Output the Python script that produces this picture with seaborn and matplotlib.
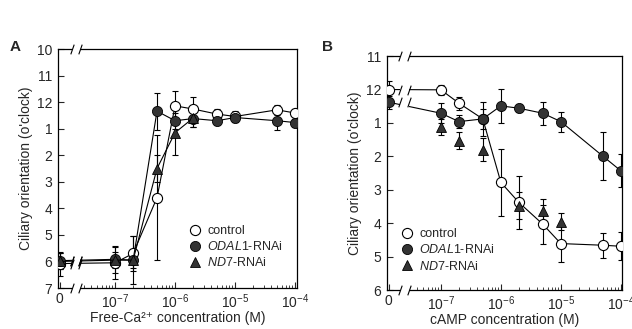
import numpy as np
import pandas as pd
import matplotlib
matplotlib.use("Agg")
import matplotlib.pyplot as plt
from matplotlib.lines import Line2D
import seaborn as sns

# panel A: free Ca2+ (M); y values in hours past 12 o'clock (12 -> 0, 1 -> 1, 10 -> -2)
ca_conc = [0, 1e-7, 2e-7, 5e-7, 1e-6, 2e-6, 5e-6, 1e-5, 5e-5, 1e-4]
ca_control = [6.08, 6.05, 5.70, 3.60, 0.14, 0.26, 0.45, 0.54, 0.29, 0.41]
ca_control_err = [0.45, 0.6, 0.65, 2.35, 0.55, 0.45, 0.2, 0.2, 0.2, 0.15]
ca_odal1 = [5.97, 5.92, 5.95, 0.34, 0.70, 0.62, 0.70, 0.58, 0.70, 0.77]
ca_odal1_err = [0.3, 0.5, 0.3, 0.7, 0.3, 0.3, 0.15, 0.15, 0.35, 0.15]
ca_nd7_conc = [0, 1e-7, 2e-7, 5e-7, 1e-6, 2e-6]
ca_nd7 = [6.0, 5.95, 5.95, 2.5, 1.15, 0.6]
ca_nd7_err = [0.3, 0.3, 0.9, 0.5, 0.85, 0.35]

# panel B: cAMP (M)
camp_conc = [0, 1e-7, 2e-7, 5e-7, 1e-6, 2e-6, 5e-6, 1e-5, 5e-5, 1e-4]
camp_control = [0.0, 0.01, 0.41, 0.88, 2.78, 3.38, 4.03, 4.61, 4.66, 4.69]
camp_control_err = [0.25, 0.15, 0.2, 0.3, 1.0, 0.8, 0.58, 0.55, 0.37, 0.42]
camp_odal1 = [0.38, 0.71, 0.96, 0.88, 0.49, 0.56, 0.71, 0.96, 1.99, 2.43]
camp_odal1_err = [0.2, 0.3, 0.2, 0.5, 0.5, 0.12, 0.35, 0.3, 0.72, 0.5]
camp_nd7_conc = [1e-7, 2e-7, 5e-7, 2e-6, 5e-6, 1e-5]
camp_nd7 = [1.12, 1.53, 1.8, 3.48, 3.64, 3.95]
camp_nd7_err = [0.25, 0.25, 0.35, 0.4, 0.35, 0.25]

clock_labels = ["10", "11", "12", "1", "2", "3", "4", "5", "6", "7"]

sns.set_style("ticks")
plt.rcParams["font.family"] = ["Liberation Sans", "DejaVu Sans"]
plt.rcParams["mathtext.fontset"] = "custom"
plt.rcParams["mathtext.rm"] = "Liberation Sans"
plt.rcParams["mathtext.it"] = "Liberation Sans:italic"
plt.rcParams["mathtext.bf"] = "Liberation Sans:bold"

fig = plt.figure(figsize=(6.32, 3.29), dpi=100)
fig.patch.set_facecolor("white")
axA = fig.add_axes([0.0918, 0.1246, 0.378, 0.7264])
axB = fig.add_axes([0.6123, 0.1185, 0.3718, 0.711])

slash = [(-0.35, -1), (0.35, 1)]


def xpos(conc, zero_pos):
    return [zero_pos if c == 0 else np.log10(c) for c in conc]


def draw_panel(ax, zero_pos, xlim, brk, series, ylim, xlabel, nd7_line):
    ctrl_x, ctrl_y, ctrl_e, od_x, od_y, od_e, nd_x, nd_y, nd_e = series
    cx = xpos(ctrl_x, zero_pos)
    ox = xpos(od_x, zero_pos)
    nx = xpos(nd_x, zero_pos)

    for x, y, e in [(cx, ctrl_y, ctrl_e), (ox, od_y, od_e), (nx, nd_y, nd_e)]:
        ax.errorbar(x, y, yerr=e, fmt="none", ecolor="black", elinewidth=0.8,
                    capsize=2.3, capthick=0.8, zorder=2)

    df_c = pd.DataFrame({"x": cx, "y": ctrl_y})
    df_o = pd.DataFrame({"x": ox, "y": od_y})
    df_n = pd.DataFrame({"x": nx, "y": nd_y})
    sns.lineplot(data=df_c, x="x", y="y", ax=ax, color="black", lw=0.8, sort=False,
                 marker="o", markersize=7.3, markerfacecolor="white",
                 markeredgecolor="black", markeredgewidth=0.8, zorder=3)
    sns.lineplot(data=df_o, x="x", y="y", ax=ax, color="black", lw=0.8, sort=False,
                 marker="o", markersize=7.3, markerfacecolor="#333333",
                 markeredgecolor="black", markeredgewidth=0.6, zorder=4)
    sns.lineplot(data=df_n, x="x", y="y", ax=ax, color="black", lw=0.8 if nd7_line else 0,
                 sort=False, marker="^", markersize=7.3, markerfacecolor="#333333",
                 markeredgecolor="black", markeredgewidth=0.6, zorder=4)

    ax.set_xlim(*xlim)
    ax.set_ylim(ylim[1], ylim[0])

    major = [-7, -6, -5, -4]
    ax.set_xticks([zero_pos] + major)
    ax.set_xticklabels(["0"] + [rf"$10^{{{m}}}$" for m in major])
    minor = [np.log10(k * 10.0 ** n) for n in range(-8, -4) for k in range(2, 10)]
    minor = [m for m in minor if brk[1] + 0.02 < m < xlim[1]]
    ax.set_xticks(minor, minor=True)
    ax.set_yticks(list(range(ylim[0], ylim[1] + 1)))
    ax.set_yticklabels(clock_labels[ylim[0] + 2: ylim[1] + 3])

    ax.tick_params(axis="both", which="major", direction="in", length=4, width=0.8,
                   labelsize=10, pad=4, top=False, right=False)
    ax.tick_params(axis="x", which="major", pad=3)
    ax.tick_params(axis="x", which="minor", direction="in", length=2, width=0.6,
                   top=False)
    for s in ax.spines.values():
        s.set_linewidth(0.9)
        s.set_color("black")
        s.set_visible(True)

    ax.set_xlabel(xlabel, fontsize=10, labelpad=0)
    ax.set_ylabel("Ciliary orientation (o'clock)", fontsize=10, labelpad=3)

    # axis break
    ax.axvspan(brk[0], brk[1], ymin=-0.03, ymax=1.03, color="white", zorder=5,
               clip_on=False, lw=0)
    tr = ax.get_xaxis_transform()
    ax.plot([brk[0], brk[1], brk[0], brk[1]], [0, 0, 1, 1], transform=tr,
            linestyle="none", marker=slash, markersize=7, color="black", mew=0.8,
            clip_on=False, zorder=6)
    lines_y = [ctrl_y[0], od_y[0]]
    if nd7_line and nd_x[0] == 0:
        lines_y.append(nd_y[0])
    for yv in lines_y:
        ax.plot(brk, [yv, yv], linestyle="none", marker=slash, markersize=7,
                color="black", mew=0.8, zorder=6)


draw_panel(axA, -7.92, (-7.95, -3.97), (-7.717, -7.583),
           (ca_conc, ca_control, ca_control_err, ca_conc, ca_odal1, ca_odal1_err,
            ca_nd7_conc, ca_nd7, ca_nd7_err),
           (-2, 7), "Free-Ca²⁺ concentration (M)", True)
draw_panel(axB, -7.87, (-7.9, -3.98), (-7.69, -7.53),
           (camp_conc, camp_control, camp_control_err, camp_conc, camp_odal1,
            camp_odal1_err, camp_nd7_conc, camp_nd7, camp_nd7_err),
           (-1, 6), "cAMP concentration (M)", False)

handles = [
    Line2D([], [], ls="none", marker="o", ms=7.3, mfc="white", mec="black", mew=0.8),
    Line2D([], [], ls="none", marker="o", ms=7.3, mfc="#333333", mec="black", mew=0.6),
    Line2D([], [], ls="none", marker="^", ms=7.3, mfc="#333333", mec="black", mew=0.6),
]
labels = ["control", r"$\it{ODAL1}$-RNAi", r"$\it{ND7}$-RNAi"]
axA.legend(handles, labels, loc="upper left", bbox_to_anchor=(0.52, 0.285),
           frameon=False, fontsize=9, handletextpad=0.4, labelspacing=0.25,
           borderaxespad=0, handlelength=1.2)
axB.legend(handles, labels, loc="upper left", bbox_to_anchor=(0.03, 0.285),
           frameon=False, fontsize=9, handletextpad=0.4, labelspacing=0.25,
           borderaxespad=0, handlelength=1.2)

fig.text(0.016, 0.845, "A", fontsize=11, fontweight="bold")
fig.text(0.51, 0.845, "B", fontsize=11, fontweight="bold")

fig.savefig("out.png", dpi=100, facecolor="white")
